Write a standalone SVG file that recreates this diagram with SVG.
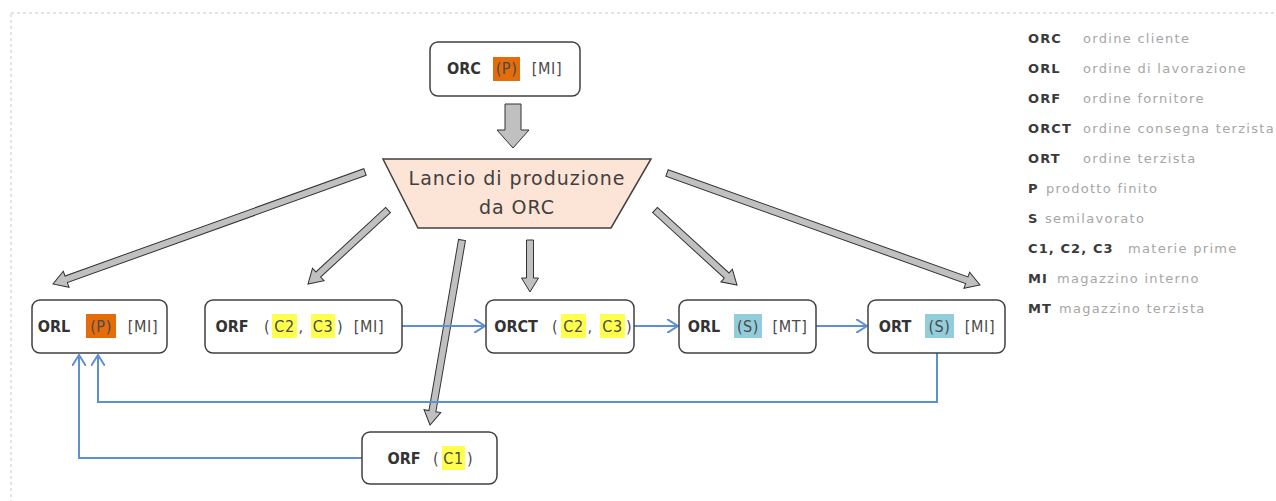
<svg xmlns="http://www.w3.org/2000/svg" width="1276" height="501" viewBox="0 0 1276 501">
<style>
.box{fill:#fff;stroke:#404040;stroke-width:1.5}
.b{font-family:"DejaVu Sans Condensed","DejaVu Sans",sans-serif;font-weight:bold;font-size:16px;fill:#333;text-anchor:middle}
.r{font-family:"DejaVu Sans Condensed","DejaVu Sans",sans-serif;font-size:16px;fill:#4a4a4a;text-anchor:middle;letter-spacing:0.6px}
.ho{fill:#E46C0A}.hy{fill:#FFFF4D}.hc{fill:#92CDDC}
.ga{fill:#C0C0C0;stroke:#333;stroke-width:1}
.bl{fill:none;stroke:#5F8FD3;stroke-width:2}
.lc{font-family:"DejaVu Sans",sans-serif;font-weight:bold;font-size:13px;fill:#3a3a3a;letter-spacing:1.1px}
.ld{font-family:"DejaVu Sans",sans-serif;font-size:13px;fill:#a6a6a6;letter-spacing:1.3px}
.tz{font-family:"DejaVu Sans",sans-serif;font-size:19px;fill:#404040;text-anchor:middle;letter-spacing:1px}
</style>
<defs>
<marker id="oa" viewBox="0 0 12 14" refX="11" refY="7" markerWidth="12" markerHeight="14" markerUnits="userSpaceOnUse" orient="auto">
<path d="M0,0 L11,7 L0,14" fill="none" stroke="#5F8FD3" stroke-width="2"/>
</marker>
</defs>
<rect x="11" y="13" width="1300" height="520" fill="none" stroke="#c8c8c8" stroke-width="1" stroke-dasharray="3,3"/>

<g id="connectors">
<polygon class="ga" points="505,104 521,104 521,130 529,130 513,148 497,130 505,130 505,104"/>
<polygon class="ga" transform="translate(365,172) rotate(160.25)" points="0,-3.5 317.5,-3.5 317.5,-8.5 331.5,0 317.5,8.5 317.5,3.5 0,3.5"/>
<polygon class="ga" transform="translate(388,210) rotate(137.23)" points="0,-3.5 95,-3.5 95,-8.5 109,0 95,8.5 95,3.5 0,3.5"/>
<polygon class="ga" transform="translate(462,240) rotate(99.81)" points="0,-3.5 173.7,-3.5 173.7,-8.5 187.7,0 173.7,8.5 173.7,3.5 0,3.5"/>
<polygon class="ga" transform="translate(530,240) rotate(90)" points="0,-3.5 38,-3.5 38,-8.5 52,0 38,8.5 38,3.5 0,3.5"/>
<polygon class="ga" transform="translate(655,210) rotate(42.45)" points="0,-3.5 97.1,-3.5 97.1,-8.5 111.1,0 97.1,8.5 97.1,3.5 0,3.5"/>
<polygon class="ga" transform="translate(667,173) rotate(19.69)" points="0,-3.5 318.4,-3.5 318.4,-8.5 332.4,0 318.4,8.5 318.4,3.5 0,3.5"/>
<path class="bl" d="M402,326 L485,326" marker-end="url(#oa)"/>
<path class="bl" d="M633,326 L678,326" marker-end="url(#oa)"/>
<path class="bl" d="M816,326 L867,326" marker-end="url(#oa)"/>
<path class="bl" d="M937,353 L937,402 L98,402 L98,355" marker-end="url(#oa)"/>
<path class="bl" d="M362,458 L79,458 L79,355" marker-end="url(#oa)"/>
</g>

<g id="orc">
<rect class="box" x="430" y="42" width="150" height="54" rx="8"/>
<text class="b" x="464" y="74">ORC</text>
<rect class="ho" x="493" y="57" width="27" height="24"/>
<text class="r" x="506.5" y="74">(P)</text>
<text class="r" x="547" y="74">[MI]</text>
</g>

<g id="lancio">
<polygon points="383,159 651,159 611,228 418,228" fill="#FCE4D6" stroke="#404040" stroke-width="1.5"/>
<text class="tz" x="517" y="185">Lancio di produzione</text>
<text class="tz" x="517" y="214">da ORC</text>
</g>

<g id="orl-p">
<rect class="box" x="32" y="300" width="135" height="53" rx="8"/>
<text class="b" x="54" y="332">ORL</text>
<rect class="ho" x="86" y="314" width="30" height="24"/>
<text class="r" x="101" y="332">(P)</text>
<text class="r" x="143" y="332">[MI]</text>
</g>

<g id="orf-c2c3">
<rect class="box" x="205" y="300" width="197" height="53" rx="8"/>
<text class="b" x="232" y="332">ORF</text>
<text class="r" x="267" y="332">(</text>
<rect class="hy" x="272" y="314" width="25" height="24"/>
<text class="r" x="284.5" y="332">C2</text>
<text class="r" x="301" y="332">,</text>
<rect class="hy" x="311" y="314" width="24" height="24"/>
<text class="r" x="323" y="332">C3</text>
<text class="r" x="340" y="332">)</text>
<text class="r" x="369" y="332">[MI]</text>
</g>

<g id="orct">
<rect class="box" x="486" y="300" width="148" height="53" rx="8"/>
<text class="b" x="516" y="332">ORCT</text>
<text class="r" x="555" y="332">(</text>
<rect class="hy" x="561" y="314" width="25" height="24"/>
<text class="r" x="573.5" y="332">C2</text>
<text class="r" x="590" y="332">,</text>
<rect class="hy" x="600" y="314" width="25" height="24"/>
<text class="r" x="612.5" y="332">C3</text>
<text class="r" x="629" y="332">)</text>
</g>

<g id="orl-s">
<rect class="box" x="679" y="300" width="137" height="53" rx="8"/>
<text class="b" x="704" y="332">ORL</text>
<rect class="hc" x="734" y="314" width="28" height="24"/>
<text class="r" x="748" y="332">(S)</text>
<text class="r" x="790" y="332">[MT]</text>
</g>

<g id="ort-s">
<rect class="box" x="868" y="300" width="137" height="53" rx="8"/>
<text class="b" x="895" y="332">ORT</text>
<rect class="hc" x="925" y="314" width="29" height="24"/>
<text class="r" x="939.5" y="332">(S)</text>
<text class="r" x="980" y="332">[MI]</text>
</g>

<g id="orf-c1">
<rect class="box" x="362" y="432" width="135" height="52" rx="8"/>
<text class="b" x="404" y="464">ORF</text>
<text class="r" x="436" y="464">(</text>
<rect class="hy" x="442" y="446" width="23" height="24"/>
<text class="r" x="453.5" y="464">C1</text>
<text class="r" x="470" y="464">)</text>
</g>

<g id="legend">
<text class="lc" x="1028" y="43">ORC</text><text class="ld" x="1083" y="43">ordine cliente</text>
<text class="lc" x="1028" y="73">ORL</text><text class="ld" x="1083" y="73">ordine di lavorazione</text>
<text class="lc" x="1028" y="103">ORF</text><text class="ld" x="1083" y="103">ordine fornitore</text>
<text class="lc" x="1028" y="133">ORCT</text><text class="ld" x="1083" y="133">ordine consegna terzista</text>
<text class="lc" x="1028" y="163">ORT</text><text class="ld" x="1083" y="163">ordine terzista</text>
<text class="lc" x="1028" y="193">P</text><text class="ld" x="1046" y="193">prodotto finito</text>
<text class="lc" x="1028" y="223">S</text><text class="ld" x="1045" y="223">semilavorato</text>
<text class="lc" x="1028" y="253">C1, C2, C3</text><text class="ld" x="1128" y="253">materie prime</text>
<text class="lc" x="1028" y="283">MI</text><text class="ld" x="1057" y="283">magazzino interno</text>
<text class="lc" x="1028" y="313">MT</text><text class="ld" x="1059" y="313">magazzino terzista</text>
</g>
</svg>
